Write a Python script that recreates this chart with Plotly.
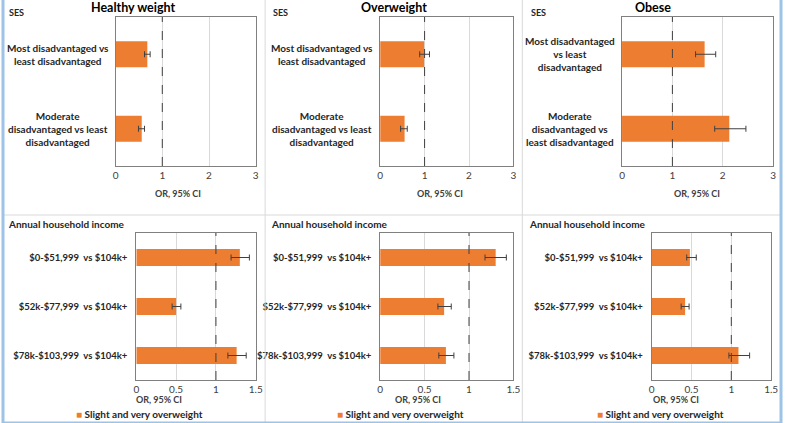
import plotly.graph_objects as go

# ---------------- data ----------------
ses_categories = ["Most disadvantaged vs least disadvantaged",
                  "Moderate disadvantaged vs least disadvantaged"]
income_categories = ["$0-$51,999  vs $104k+",
                     "$52k-$77,999  vs $104k+",
                     "$78k-$103,999  vs $104k+"]

panel_titles = ["Healthy weight", "Overweight", "Obese"]

healthy_ses_or = [0.68, 0.56]
healthy_ses_lo = [0.62, 0.49]
healthy_ses_hi = [0.74, 0.62]

over_ses_or = [0.99, 0.55]
over_ses_lo = [0.89, 0.46]
over_ses_hi = [1.11, 0.61]

obese_ses_or = [1.64, 2.13]
obese_ses_lo = [1.46, 1.84]
obese_ses_hi = [1.86, 2.46]

healthy_inc_or = [1.30, 0.50, 1.26]
healthy_inc_lo = [1.19, 0.45, 1.15]
healthy_inc_hi = [1.42, 0.56, 1.38]

over_inc_or = [1.30, 0.72, 0.74]
over_inc_lo = [1.18, 0.65, 0.66]
over_inc_hi = [1.42, 0.80, 0.83]

obese_inc_or = [0.48, 0.42, 1.09]
obese_inc_lo = [0.44, 0.37, 0.97]
obese_inc_hi = [0.56, 0.47, 1.23]

series_name = "Slight and very overweight"

# display wrapping of SES labels per panel
ses_wrapped = [
    ["Most disadvantaged vs<br>least disadvantaged",
     "Moderate<br>disadvantaged vs least<br>disadvantaged"],
    ["Most disadvantaged vs<br>least disadvantaged",
     "Moderate<br>disadvantaged vs least<br>disadvantaged"],
    ["Most disadvantaged<br>vs least<br>disadvantaged",
     "Moderate<br>disadvantaged vs<br>least disadvantaged"],
]

# ---------------- layout helpers ----------------
W, H = 788, 423
FONT = "Lato"
ORANGE = "#ED7D31"
TXT = "#262626"


def px(x):
    return x / W


def py(y):
    return 1 - y / H


top_y = [py(166), py(17)]
bot_y = [py(380), py(233)]
x_doms = [(114, 256), (382, 517), (627, 780),
          (135, 256), (382, 517), (657, 778)]

panels = [
    (ses_categories, healthy_ses_or, healthy_ses_lo, healthy_ses_hi, 3),
    (ses_categories, over_ses_or, over_ses_lo, over_ses_hi, 3),
    (ses_categories, obese_ses_or, obese_ses_lo, obese_ses_hi, 3),
    (income_categories, healthy_inc_or, healthy_inc_lo, healthy_inc_hi, 1.5),
    (income_categories, over_inc_or, over_inc_lo, over_inc_hi, 1.5),
    (income_categories, obese_inc_or, obese_inc_lo, obese_inc_hi, 1.5),
]

fig = go.Figure()
shapes = []
annotations = []

for i, (cats, vals, lo, hi, xmax) in enumerate(panels):
    n = i + 1
    xa = "x" if n == 1 else f"x{n}"
    ya = "y" if n == 1 else f"y{n}"
    fig.add_trace(go.Bar(
        x=vals, y=cats, orientation="h", xaxis=xa, yaxis=ya,
        marker=dict(color=ORANGE, line=dict(width=0)),
        error_x=dict(type="data", symmetric=False,
                     array=[h - v for h, v in zip(hi, vals)],
                     arrayminus=[v - l for v, l in zip(vals, lo)],
                     color="#404040", thickness=1, width=3),
        name=series_name, showlegend=False, hoverinfo="x+y",
    ))
    is_top = i < 3
    dtick = 1 if is_top else 0.5
    x0, x1 = x_doms[i]
    fig.layout[f"xaxis{'' if n == 1 else n}"] = dict(
        domain=[px(x0), px(x1)], anchor=ya, range=[0, xmax],
        dtick=dtick, tick0=0, showgrid=True, gridcolor="#D9D9D9", gridwidth=1,
        zeroline=False, showline=True, linecolor="#808080", linewidth=1,
        mirror=True, ticks="", tickfont=dict(family=FONT, size=10, color="#404040"),
        fixedrange=True,
    )
    fig.layout[f"yaxis{'' if n == 1 else n}"] = dict(
        domain=top_y if is_top else bot_y, anchor=xa,
        autorange="reversed", type="category",
        showline=True, linecolor="#808080", linewidth=1, mirror=True,
        showgrid=False, zeroline=False, ticks="",
        showticklabels=not is_top, ticklabelstandoff=6,
        tickfont=dict(family=FONT, size=9.5, color=TXT, weight="bold"),
        fixedrange=True,
    )
    # reference line at OR = 1
    shapes.append(dict(type="line", xref=xa, yref=f"{ya} domain",
                       x0=1, x1=1, y0=0, y1=1,
                       line=dict(color="#404040", width=1, dash="dash")))
    if is_top:
        label_cx = [56, 323, 574][i]
        for c, txt in zip(cats, ses_wrapped[i]):
            annotations.append(dict(
                xref="paper", yref=ya, x=px(label_cx), y=c, text=txt,
                xanchor="center", yanchor="middle", align="center",
                showarrow=False,
                font=dict(family=FONT, size=10, color=TXT, weight="bold")))

# titles
for t, cx in zip(panel_titles, [132, 396, 658]):
    annotations.append(dict(xref="paper", yref="paper", x=px(cx), y=py(7),
                            text=f"<b>{t}</b>", showarrow=False,
                            xanchor="center", yanchor="middle",
                            font=dict(family=FONT, size=12.5, color="#000000")))
# section headers
for sx in [4, 271, 533]:
    annotations.append(dict(xref="paper", yref="paper", x=px(sx), y=py(12),
                            text="<b>SES</b>", showarrow=False,
                            xanchor="left", yanchor="middle",
                            font=dict(family=FONT, size=9, color=TXT)))
for sx in [3, 269, 531]:
    annotations.append(dict(xref="paper", yref="paper", x=px(sx), y=py(224),
                            text="<b>Annual household income</b>", showarrow=False,
                            xanchor="left", yanchor="middle",
                            font=dict(family=FONT, size=10, color=TXT)))
# axis titles
for cx, cy in [(177, 193), (443, 193), (703, 193),
               (158, 399), (420, 399), (682, 399)]:
    annotations.append(dict(xref="paper", yref="paper", x=px(cx), y=py(cy),
                            text="<b>OR, 95% CI</b>", showarrow=False,
                            xanchor="center", yanchor="middle",
                            font=dict(family=FONT, size=9, color="#404040")))
# legends
for lx in [72, 336, 600]:
    annotations.append(dict(xref="paper", yref="paper", x=px(lx), y=py(414),
                            text=f"<span style='color:{ORANGE}'>■</span> <b>{series_name}</b>",
                            showarrow=False, xanchor="left", yanchor="middle",
                            font=dict(family=FONT, size=10, color=TXT)))

# panel dividers and outer border
for dx in [265.5, 526]:
    shapes.append(dict(type="line", xref="paper", yref="paper",
                       x0=px(dx), x1=px(dx), y0=0, y1=1,
                       line=dict(color="#D9D9D9", width=1)))
shapes.append(dict(type="line", xref="paper", yref="paper",
                   x0=0, x1=1, y0=py(215), y1=py(215),
                   line=dict(color="#D9D9D9", width=1)))
for (a0, a1, b0, b1) in [(0, 0, 0, 1), (1, 1, 0, 1), (0, 1, 0, 0)]:
    shapes.append(dict(type="line", xref="paper", yref="paper",
                       x0=a0, x1=a1, y0=b0, y1=b1,
                       line=dict(color="#9DC3E6", width=3)))

fig.update_layout(
    width=W, height=H, margin=dict(l=0, r=0, t=0, b=0),
    paper_bgcolor="white", plot_bgcolor="white",
    bargap=0.65, showlegend=False,
    shapes=shapes, annotations=annotations,
    font=dict(family=FONT),
)

fig.write_html("out.html", config={"displayModeBar": False},
               post_script="document.body.style.margin='0';"
                           "document.body.style.overflow='hidden';")
